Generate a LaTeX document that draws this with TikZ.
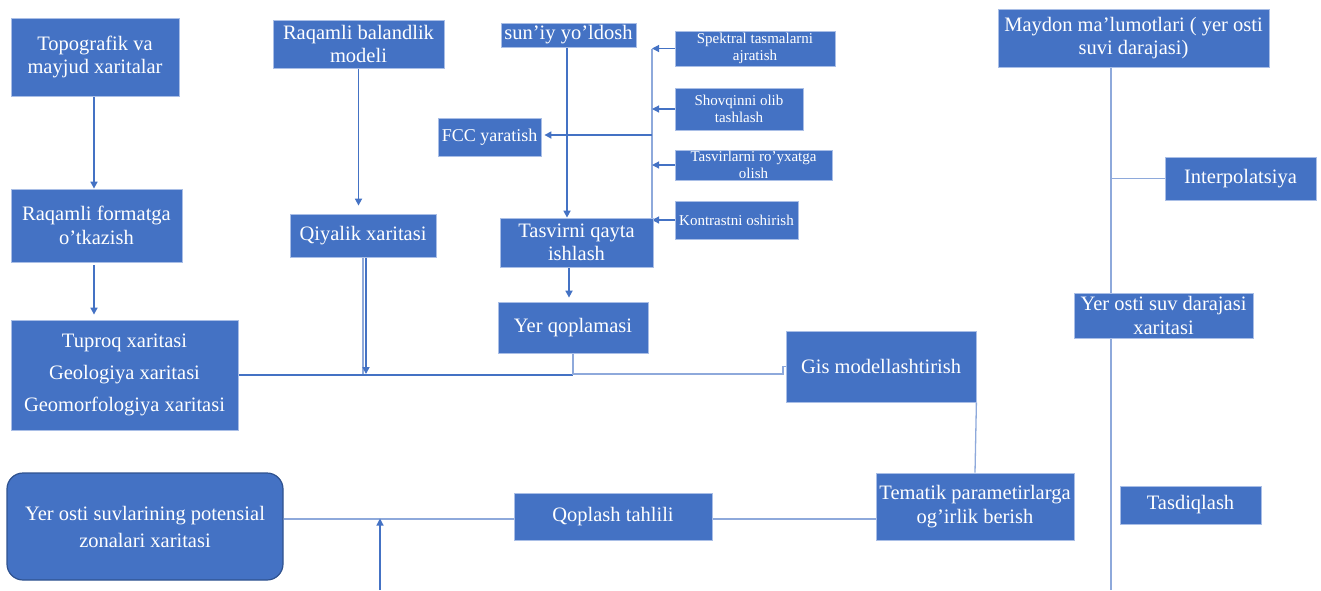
\documentclass[tikz,border=0pt]{standalone}
\usepackage{fontspec}
\setmainfont{Liberation Serif}
\usetikzlibrary{arrows.meta,backgrounds,calc}
\definecolor{boxblue}{HTML}{4472C4}
\definecolor{boxedge}{HTML}{A9BEE6}
\definecolor{linedark}{HTML}{4472C4}
\definecolor{linelight}{HTML}{8EA9DB}
\definecolor{rndedge}{HTML}{2F528F}
\tikzset{
 box/.style={fill=boxblue, draw=boxedge, line width=0.8pt, text=white, align=center, inner sep=0pt, font=\fontsize{20.5}{23.5}\selectfont},
 smallbox/.style={box, font=\fontsize{15}{17}\selectfont},
 arr/.style={draw=linedark, line width=1.6pt, -{Triangle[width=7pt,length=7pt]}},
 sarr/.style={draw=linedark, line width=1.2pt, -{Triangle[width=7pt,length=7pt]}},
 dline/.style={draw=linedark, line width=1.8pt},
 lline/.style={draw=linelight, line width=1.3pt},
}
\begin{document}
\begin{tikzpicture}[x=1pt,y=-1pt]
\useasboundingbox (0,0) rectangle (1321,590);
\node[box, minimum width=168pt, minimum height=78pt] (topo) at (95,57) {Topografik va\\mayjud xaritalar};
\node[box, minimum width=171pt, minimum height=73pt] (rfmt) at (96.5,225.5) {Raqamli formatga\\o’tkazish};
\node[box, font=\fontsize{20.5}{32}\selectfont, minimum width=227pt, minimum height=110pt] (tupr) at (124.5,375) {Tuproq xaritasi\\Geologiya xaritasi\\Geomorfologiya xaritasi};
\node[box, minimum width=171pt, minimum height=48pt] (rbal) at (358.5,44) {Raqamli balandlik\\modeli};
\node[box, minimum width=146pt, minimum height=43pt] (qiya) at (363,235.5) {Qiyalik xaritasi};
\node[box, minimum width=135pt, minimum height=24pt] (sun) at (568.5,35) {sun’iy yo’ldosh};
\node[box, font=\fontsize{18}{21}\selectfont, minimum width=103pt, minimum height=38pt] (fcc) at (489.5,137) {FCC yaratish};
\node[box, minimum width=153pt, minimum height=49pt] (tasv) at (576.5,242.5) {Tasvirni qayta\\ishlash};
\node[box, minimum width=150pt, minimum height=51pt] (yerq) at (573,327.5) {Yer qoplamasi};
\node[smallbox, minimum width=160pt, minimum height=35pt] (spek) at (755,48.5) {Spektral tasmalarni\\ajratish};
\node[smallbox, minimum width=128pt, minimum height=42pt] (shov) at (739,109) {Shovqinni olib\\tashlash};
\node[smallbox, minimum width=157pt, minimum height=30pt] (tasr) at (753.5,165) {Tasvirlarni ro’yxatga\\olish};
\node[smallbox, minimum width=123pt, minimum height=38pt] (kont) at (736.5,220) {Kontrastni oshirish};
\node[box, minimum width=271pt, minimum height=58pt] (mayd) at (1133.5,38) {Maydon ma’lumotlari ( yer osti\\suvi darajasi)};
\node[box, minimum width=151pt, minimum height=43pt] (intp) at (1240.5,178.5) {Interpolatsiya};
\node[box, minimum width=179pt, minimum height=45pt] (ysdx) at (1163.5,315.5) {Yer osti suv darajasi\\xaritasi};
\node[box, minimum width=190pt, minimum height=71pt] (gis) at (881,366.5) {Gis modellashtirish};
\node[box, minimum width=198pt, minimum height=67pt] (tema) at (975,506.5) {Tematik parametirlarga\\og’irlik berish};
\node[box, minimum width=141pt, minimum height=38pt] (tasd) at (1190.5,505) {Tasdiqlash};
\node[box, minimum width=198pt, minimum height=47pt] (qopl) at (613,516.5) {Qoplash tahlili};
\node[box, draw=rndedge, line width=1.2pt, rounded corners=16pt, font=\fontsize{20.5}{27}\selectfont, minimum width=276pt, minimum height=107pt] (final) at (145,526.5) {Yer osti suvlarining potensial\\zonalari xaritasi};

\begin{scope}[on background layer]
\draw[arr] ([xshift=-1pt]topo.south) -- ([xshift=-1pt]topo.south |- rfmt.north);
\draw[arr, shorten <=3pt, shorten >=5pt] ([xshift=-2.5pt]rfmt.south) -- ([xshift=-2.5pt]rfmt.south |- tupr.north);
\draw[arr, shorten >=8pt] (rbal.south) -- (rbal.south |- qiya.north);
\coordinate (hq) at (366,375);
\draw[lline] (qiya.south) -- (qiya.south |- hq);
\draw[arr, shorten >=1pt] ([xshift=3pt]qiya.south) -- (hq);
\draw[dline] (tupr.east) -- (tupr.east -| yerq.south);
\draw[lline] (yerq.south) |- (783,374) |- (gis.west);
\draw[arr] ([xshift=-1.5pt]sun.south) -- ([xshift=-1.5pt]sun.south |- tasv.north);
\coordinate (bt) at (652,49);
\coordinate (bb) at (652,220);
\coordinate (bf) at (652,135);
\draw[lline] (bt) -- (bb);
\draw[sarr] (spek.west) -- (spek.west -| bt);
\draw[sarr] (shov.west) -- (shov.west -| bt);
\draw[sarr] (tasr.west) -- (tasr.west -| bt);
\draw[sarr] (kont.west) -- (kont.west -| bt);
\draw[arr, shorten >=3pt] (bf) -- (bf -| fcc.east);
\draw[arr, shorten >=4pt] ([xshift=-7.5pt]tasv.south) -- ([xshift=-4pt]yerq.north);
\coordinate (mb) at (1111,590);
\draw[lline] (mb |- mayd.south) -- (mb);
\draw[lline] (mb |- intp.west) -- (intp.west);
\draw[lline] (gis.south east) -- (tema.north);
\draw[lline] ([yshift=-2.5pt]qopl.east) -- ([yshift=-2.5pt]qopl.east -| tema.west);
\draw[lline] ([yshift=-2.5pt]qopl.west) -- ([yshift=-2.5pt]qopl.west -| final.east);
\coordinate (bot) at (380,590);
\draw[sarr] (bot) -- ([yshift=-2pt]bot |- qopl.west);
\end{scope}
\end{tikzpicture}
\end{document}
